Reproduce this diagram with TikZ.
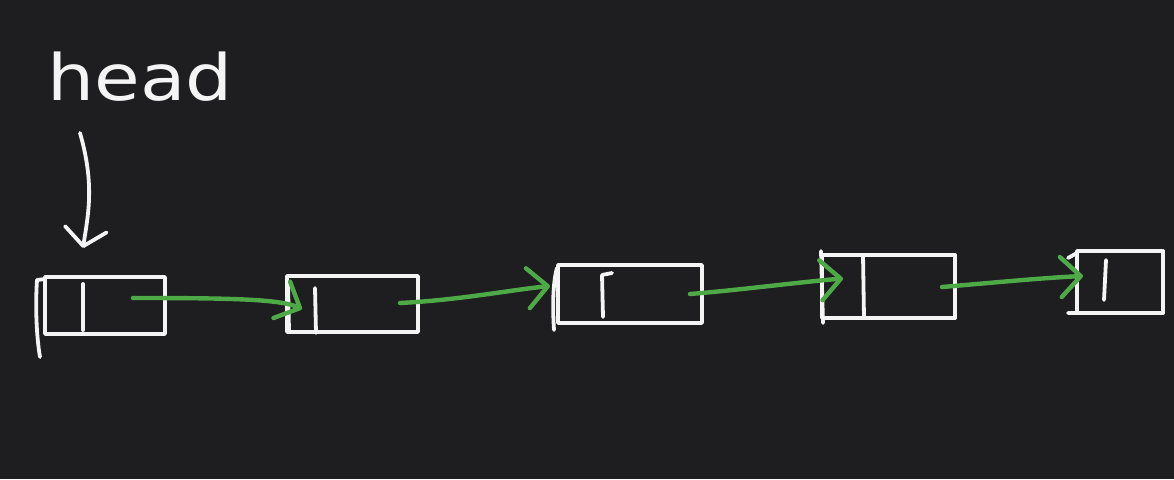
\documentclass[tikz,border=0pt]{standalone}
\usepackage{fontspec}
\newfontfamily\hfont{DejaVu Sans}
\usetikzlibrary{arrows.meta,calc}
\definecolor{bg}{HTML}{1E1E20}
\definecolor{chalk}{HTML}{F4F4F4}
\definecolor{ink}{HTML}{4DAA46}
\begin{document}
\begin{tikzpicture}[x=1pt,y=-1pt,
  stroke/.style={draw=chalk, line width=3.8pt, line cap=round, line join=round},
  cell/.style={stroke, rectangle, inner sep=0pt, outer sep=0pt},
  link/.style={draw=ink, line width=4.4pt, line cap=round, line join=round,
    -{Straight Barb[length=20pt,width=40pt,line cap=round,round]}},
  pointer/.style={stroke, -{Straight Barb[length=17pt,width=42pt,line cap=round,round]}}]
\fill[bg] (0,0) rectangle (1174,479);
\useasboundingbox (0,0) rectangle (1174,479);

% label
\node[text=chalk, font=\hfont\fontsize{64}{64}\selectfont, xscale=1.16, anchor=base, inner sep=0pt] (head) at (140,100) {head};
\coordinate (hs) at (80,133);
\coordinate (ht) at (83,248);
\draw[pointer] (hs) .. controls (95,185) and (88,215) .. (ht);

% cells
\node[cell, minimum width=120pt, minimum height=57pt] (n1) at (105,305.5) {};
\node[cell, minimum width=131pt, minimum height=56pt] (n2) at (352.5,304) {};
\node[cell, minimum width=144pt, minimum height=58pt] (n3) at (630,294) {};
\node[cell, minimum width=133pt, minimum height=63pt] (n4) at (888.5,286.5) {};
\node[cell, minimum width=86pt, minimum height=62pt] (n5) at (1120,282) {};

% hand-drawn extra strokes of the cells
\draw[stroke] (45,279) -- (37,280) .. controls (35,310) and (37,340) .. (40,357);
\draw[stroke] (83,284) -- (83,330);
\draw[stroke] (288,282) -- (289,331);
\draw[stroke] (315,288) -- (316,333);
\draw[stroke] (557,268) .. controls (552,285) and (553,315) .. (554,330);
\draw[stroke] (612,273) -- (602,275) -- (603,317);
\draw[stroke] (821,251) -- (823,323);
\draw[stroke] (863,255) -- (864,318);
\draw[stroke] (1068,258) -- (1077,253) -- (1077,313) -- (1068,313);
\draw[stroke] (1106,260) -- (1104,300);

% links
\coordinate (s1) at (133,298);
\coordinate (t1) at ($(n2.west)+(15,5)$);
\coordinate (s2) at (400,303);
\coordinate (t2) at ($(n3.west)+(-8,-8)$);
\coordinate (s3) at (690,294);
\coordinate (t3) at ($(n4.west)+(21,-8)$);
\coordinate (s4) at (942,287);
\coordinate (t4) at ($(n5.west)+(6,-6)$);
\draw[link] (s1) .. controls (230,298) and (280,299) .. (t1);
\draw[link] (s2) .. controls (460,300) and (510,290) .. (t2);
\draw[link] (s3) .. controls (740,290) and (800,282) .. (t3);
\draw[link] (s4) .. controls (990,283) and (1040,278) .. (t4);
\end{tikzpicture}
\end{document}
